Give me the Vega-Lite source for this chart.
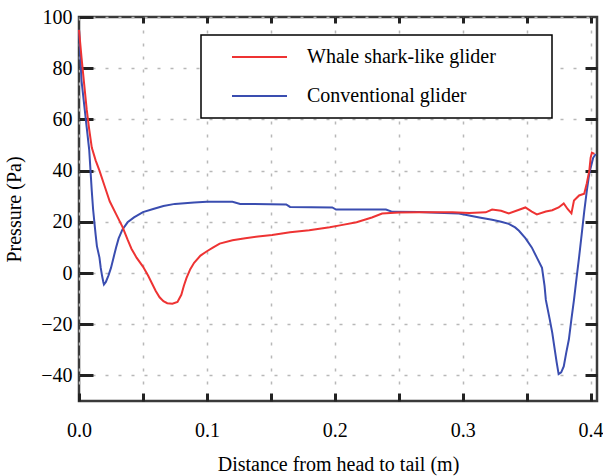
{
  "$schema": "https://vega.github.io/schema/vega-lite/v6.json",
  "width": 518,
  "height": 384,
  "autosize": {"type": "none"},
  "padding": {"left": 79, "top": 17, "right": 6, "bottom": 75},
  "background": "white",
  "config": {
    "font": "Liberation Serif",
    "view": {"stroke": "#3a3a3a", "strokeWidth": 2.5},
    "axis": {
      "labelFont": "Liberation Serif",
      "titleFont": "Liberation Serif",
      "labelFontSize": 20,
      "titleFontSize": 20,
      "titleFontWeight": "normal",
      "labelColor": "black",
      "titleColor": "black",
      "domain": false,
      "ticks": true,
      "tickColor": "#222",
      "tickWidth": 3,
      "tickOpacity": 1,
      "gridColor": "#b8b8b8",
      "gridDash": [3, 10],
      "gridWidth": 1.5,
      "labelFlush": false
    },
    "legend": {
      "labelFont": "Liberation Serif",
      "labelFontSize": 20,
      "labelColor": "black",
      "strokeWidth": 1.5
    }
  },
  "data": {
    "values": [
      {"s": "Conventional glider", "x": 0, "p": 95},
      {"s": "Conventional glider", "x": 0.001, "p": 85},
      {"s": "Conventional glider", "x": 0.002, "p": 75},
      {"s": "Conventional glider", "x": 0.004, "p": 66},
      {"s": "Conventional glider", "x": 0.006, "p": 57},
      {"s": "Conventional glider", "x": 0.008, "p": 48},
      {"s": "Conventional glider", "x": 0.009, "p": 40},
      {"s": "Conventional glider", "x": 0.010, "p": 32},
      {"s": "Conventional glider", "x": 0.011, "p": 25},
      {"s": "Conventional glider", "x": 0.012, "p": 20},
      {"s": "Conventional glider", "x": 0.013, "p": 15},
      {"s": "Conventional glider", "x": 0.014, "p": 10.5},
      {"s": "Conventional glider", "x": 0.016, "p": 6},
      {"s": "Conventional glider", "x": 0.017, "p": 2},
      {"s": "Conventional glider", "x": 0.018, "p": -1},
      {"s": "Conventional glider", "x": 0.019, "p": -3.5},
      {"s": "Conventional glider", "x": 0.0195, "p": -4.5},
      {"s": "Conventional glider", "x": 0.021, "p": -3.5},
      {"s": "Conventional glider", "x": 0.023, "p": -1},
      {"s": "Conventional glider", "x": 0.025, "p": 2},
      {"s": "Conventional glider", "x": 0.027, "p": 6},
      {"s": "Conventional glider", "x": 0.029, "p": 10},
      {"s": "Conventional glider", "x": 0.031, "p": 13.5},
      {"s": "Conventional glider", "x": 0.034, "p": 17},
      {"s": "Conventional glider", "x": 0.038, "p": 19.8},
      {"s": "Conventional glider", "x": 0.043, "p": 21.7},
      {"s": "Conventional glider", "x": 0.050, "p": 23.8},
      {"s": "Conventional glider", "x": 0.058, "p": 25},
      {"s": "Conventional glider", "x": 0.066, "p": 26.2},
      {"s": "Conventional glider", "x": 0.075, "p": 27},
      {"s": "Conventional glider", "x": 0.090, "p": 27.5},
      {"s": "Conventional glider", "x": 0.100, "p": 27.8},
      {"s": "Conventional glider", "x": 0.120, "p": 27.8},
      {"s": "Conventional glider", "x": 0.126, "p": 27},
      {"s": "Conventional glider", "x": 0.162, "p": 26.8},
      {"s": "Conventional glider", "x": 0.165, "p": 25.8},
      {"s": "Conventional glider", "x": 0.198, "p": 25.6},
      {"s": "Conventional glider", "x": 0.201, "p": 24.8},
      {"s": "Conventional glider", "x": 0.240, "p": 24.8},
      {"s": "Conventional glider", "x": 0.245, "p": 23.9},
      {"s": "Conventional glider", "x": 0.266, "p": 23.8},
      {"s": "Conventional glider", "x": 0.280, "p": 23.5},
      {"s": "Conventional glider", "x": 0.297, "p": 23.2},
      {"s": "Conventional glider", "x": 0.305, "p": 22.5},
      {"s": "Conventional glider", "x": 0.313, "p": 21.7},
      {"s": "Conventional glider", "x": 0.323, "p": 20.8},
      {"s": "Conventional glider", "x": 0.330, "p": 20},
      {"s": "Conventional glider", "x": 0.336, "p": 19.2},
      {"s": "Conventional glider", "x": 0.341, "p": 17.8},
      {"s": "Conventional glider", "x": 0.344, "p": 16.5},
      {"s": "Conventional glider", "x": 0.349, "p": 13.6},
      {"s": "Conventional glider", "x": 0.354, "p": 10},
      {"s": "Conventional glider", "x": 0.358, "p": 6},
      {"s": "Conventional glider", "x": 0.362, "p": 2},
      {"s": "Conventional glider", "x": 0.364, "p": -5},
      {"s": "Conventional glider", "x": 0.365, "p": -10.5},
      {"s": "Conventional glider", "x": 0.368, "p": -18},
      {"s": "Conventional glider", "x": 0.370, "p": -23.3},
      {"s": "Conventional glider", "x": 0.372, "p": -30},
      {"s": "Conventional glider", "x": 0.3735, "p": -35},
      {"s": "Conventional glider", "x": 0.375, "p": -39.5},
      {"s": "Conventional glider", "x": 0.377, "p": -38.8},
      {"s": "Conventional glider", "x": 0.379, "p": -36.5},
      {"s": "Conventional glider", "x": 0.381, "p": -31},
      {"s": "Conventional glider", "x": 0.383, "p": -26},
      {"s": "Conventional glider", "x": 0.385, "p": -18},
      {"s": "Conventional glider", "x": 0.387, "p": -10.5},
      {"s": "Conventional glider", "x": 0.389, "p": -2},
      {"s": "Conventional glider", "x": 0.391, "p": 6.2},
      {"s": "Conventional glider", "x": 0.393, "p": 15},
      {"s": "Conventional glider", "x": 0.395, "p": 24},
      {"s": "Conventional glider", "x": 0.397, "p": 32},
      {"s": "Conventional glider", "x": 0.399, "p": 39},
      {"s": "Conventional glider", "x": 0.402, "p": 45},
      {"s": "Conventional glider", "x": 0.404, "p": 46.5},
      {"s": "Whale shark-like glider", "x": 0, "p": 95},
      {"s": "Whale shark-like glider", "x": 0.002, "p": 84},
      {"s": "Whale shark-like glider", "x": 0.004, "p": 74},
      {"s": "Whale shark-like glider", "x": 0.006, "p": 64},
      {"s": "Whale shark-like glider", "x": 0.008, "p": 56},
      {"s": "Whale shark-like glider", "x": 0.010, "p": 49},
      {"s": "Whale shark-like glider", "x": 0.013, "p": 44},
      {"s": "Whale shark-like glider", "x": 0.016, "p": 40},
      {"s": "Whale shark-like glider", "x": 0.020, "p": 34},
      {"s": "Whale shark-like glider", "x": 0.024, "p": 28},
      {"s": "Whale shark-like glider", "x": 0.029, "p": 23},
      {"s": "Whale shark-like glider", "x": 0.034, "p": 18},
      {"s": "Whale shark-like glider", "x": 0.038, "p": 13},
      {"s": "Whale shark-like glider", "x": 0.041, "p": 9.5},
      {"s": "Whale shark-like glider", "x": 0.045, "p": 6},
      {"s": "Whale shark-like glider", "x": 0.050, "p": 2.5},
      {"s": "Whale shark-like glider", "x": 0.054, "p": -1},
      {"s": "Whale shark-like glider", "x": 0.057, "p": -4},
      {"s": "Whale shark-like glider", "x": 0.060, "p": -7},
      {"s": "Whale shark-like glider", "x": 0.063, "p": -9.5},
      {"s": "Whale shark-like glider", "x": 0.066, "p": -11},
      {"s": "Whale shark-like glider", "x": 0.069, "p": -11.8},
      {"s": "Whale shark-like glider", "x": 0.073, "p": -12},
      {"s": "Whale shark-like glider", "x": 0.077, "p": -11.3},
      {"s": "Whale shark-like glider", "x": 0.080, "p": -8.5},
      {"s": "Whale shark-like glider", "x": 0.082, "p": -5},
      {"s": "Whale shark-like glider", "x": 0.084, "p": -2},
      {"s": "Whale shark-like glider", "x": 0.087, "p": 1.5},
      {"s": "Whale shark-like glider", "x": 0.090, "p": 4},
      {"s": "Whale shark-like glider", "x": 0.095, "p": 6.8},
      {"s": "Whale shark-like glider", "x": 0.100, "p": 8.5},
      {"s": "Whale shark-like glider", "x": 0.105, "p": 10},
      {"s": "Whale shark-like glider", "x": 0.110, "p": 11.5},
      {"s": "Whale shark-like glider", "x": 0.120, "p": 12.8},
      {"s": "Whale shark-like glider", "x": 0.130, "p": 13.6},
      {"s": "Whale shark-like glider", "x": 0.140, "p": 14.3},
      {"s": "Whale shark-like glider", "x": 0.151, "p": 14.8},
      {"s": "Whale shark-like glider", "x": 0.165, "p": 15.9},
      {"s": "Whale shark-like glider", "x": 0.180, "p": 16.7},
      {"s": "Whale shark-like glider", "x": 0.196, "p": 17.9},
      {"s": "Whale shark-like glider", "x": 0.204, "p": 18.6},
      {"s": "Whale shark-like glider", "x": 0.217, "p": 19.8},
      {"s": "Whale shark-like glider", "x": 0.229, "p": 21.7},
      {"s": "Whale shark-like glider", "x": 0.237, "p": 23.2},
      {"s": "Whale shark-like glider", "x": 0.250, "p": 23.6},
      {"s": "Whale shark-like glider", "x": 0.266, "p": 23.7},
      {"s": "Whale shark-like glider", "x": 0.292, "p": 23.7},
      {"s": "Whale shark-like glider", "x": 0.305, "p": 23.4},
      {"s": "Whale shark-like glider", "x": 0.318, "p": 23.7},
      {"s": "Whale shark-like glider", "x": 0.323, "p": 24.8},
      {"s": "Whale shark-like glider", "x": 0.330, "p": 24.3},
      {"s": "Whale shark-like glider", "x": 0.336, "p": 23.3},
      {"s": "Whale shark-like glider", "x": 0.343, "p": 24.5},
      {"s": "Whale shark-like glider", "x": 0.349, "p": 25.6},
      {"s": "Whale shark-like glider", "x": 0.354, "p": 24},
      {"s": "Whale shark-like glider", "x": 0.358, "p": 22.9},
      {"s": "Whale shark-like glider", "x": 0.365, "p": 24},
      {"s": "Whale shark-like glider", "x": 0.370, "p": 24.5},
      {"s": "Whale shark-like glider", "x": 0.375, "p": 25.6},
      {"s": "Whale shark-like glider", "x": 0.379, "p": 27.2},
      {"s": "Whale shark-like glider", "x": 0.382, "p": 25},
      {"s": "Whale shark-like glider", "x": 0.385, "p": 23.3},
      {"s": "Whale shark-like glider", "x": 0.387, "p": 28.3},
      {"s": "Whale shark-like glider", "x": 0.391, "p": 30.3},
      {"s": "Whale shark-like glider", "x": 0.395, "p": 31},
      {"s": "Whale shark-like glider", "x": 0.397, "p": 35},
      {"s": "Whale shark-like glider", "x": 0.399, "p": 40},
      {"s": "Whale shark-like glider", "x": 0.400, "p": 45},
      {"s": "Whale shark-like glider", "x": 0.401, "p": 47},
      {"s": "Whale shark-like glider", "x": 0.403, "p": 46.5}
    ]
  },
  "layer": [
    {
      "mark": {"type": "line", "strokeWidth": 2, "opacity": 0},
      "encoding": {
        "x": {
          "field": "x", "type": "quantitative",
          "scale": {"domain": [0, 0.405], "nice": false, "zero": false},
          "axis": {
            "orient": "top", "labels": false, "title": null, "grid": false,
            "ticks": true,
            "values": [0.05, 0.1, 0.15, 0.2, 0.25, 0.3, 0.35, 0.4],
            "tickSize": -6
          }
        },
        "y": {
          "field": "p", "type": "quantitative",
          "scale": {"domain": [-50, 100], "nice": false, "zero": false},
          "axis": {
            "orient": "right", "labels": false, "title": null, "grid": false,
            "ticks": true,
            "values": [-40, -20, 0, 20, 40, 60, 80],
            "tickSize": -12
          }
        },
        "detail": {"field": "s"}
      }
    },
    {
      "mark": {"type": "line", "strokeWidth": 2},
      "encoding": {
        "x": {
          "field": "x", "type": "quantitative",
          "title": "Distance from head to tail (m)",
          "axis": {
            "orient": "bottom",
            "grid": true,
            "ticks": true,
            "values": [0, 0.05, 0.1, 0.15, 0.2, 0.25, 0.3, 0.35, 0.4],
            "labelExpr": "round(datum.value*100) % 10 == 0 ? format(datum.value, '.1f') : ''",
            "tickSize": -8,
            "labelPadding": 27,
            "titlePadding": 14,
            "labelOverlap": false
          }
        },
        "y": {
          "field": "p", "type": "quantitative",
          "title": "Pressure (Pa)",
          "axis": {
            "orient": "left",
            "grid": true,
            "ticks": true,
            "values": [-40, -20, 0, 20, 40, 60, 80, 100],
            "labelExpr": "datum.value < 0 ? '\u2212' + abs(datum.value) : datum.label",
            "tickSize": -14,
            "labelPadding": 21,
            "titlePadding": 16,
            "labelOverlap": false
          }
        },
        "color": {
          "field": "s", "type": "nominal",
          "scale": {
            "domain": ["Whale shark-like glider", "Conventional glider"],
            "range": ["#ee3333", "#3a4db0"]
          },
          "legend": {
            "title": null,
            "orient": "none",
            "legendX": 122,
            "legendY": 18,
            "padding": 12,
            "fillColor": "white",
            "strokeColor": "black",
            "cornerRadius": 0,
            "symbolType": "M1.8,0H12.8M62.5,0",
            "symbolSize": 100,
            "symbolStrokeWidth": 2,
            "labelOffset": 74,
            "labelLimit": 500,
            "rowPadding": 19
          }
        }
      }
    }
  ],
  "resolve": {"axis": {"x": "independent", "y": "independent"}}
}
